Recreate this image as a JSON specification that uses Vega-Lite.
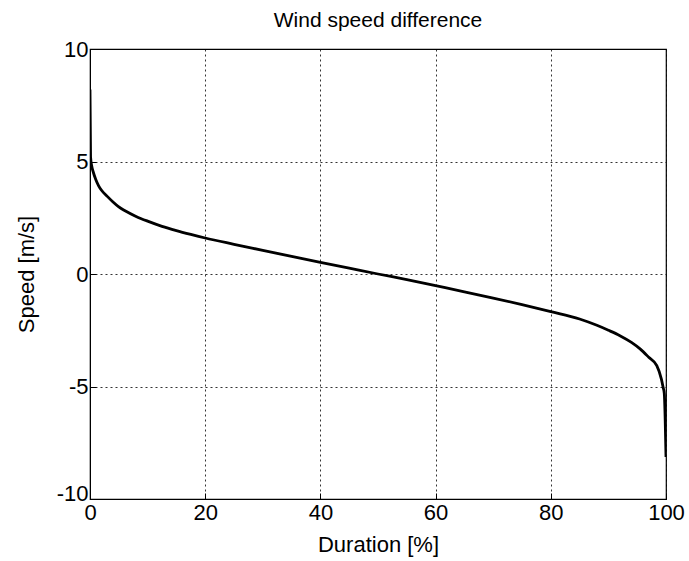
{
  "$schema": "https://vega.github.io/schema/vega-lite/v6.json",
  "width": 576,
  "height": 450,
  "autosize": "none",
  "padding": {"left": 90, "top": 49, "right": 23, "bottom": 62},
  "background": "white",
  "title": {"text": "Wind speed difference", "fontSize": 21, "font": "Liberation Sans", "fontWeight": "normal", "color": "black", "offset": 7},
  "config": {
    "font": "Liberation Sans",
    "view": {"stroke": "black", "strokeWidth": 1.2},
    "axis": {
      "labelFont": "Liberation Sans", "titleFont": "Liberation Sans",
      "labelFontSize": 22, "titleFontSize": 22, "titleFontWeight": "normal",
      "labelColor": "black", "titleColor": "black", "labelFlush": false, "labelOverlap": false,
      "domainColor": "black", "tickColor": "black", "tickSize": -6,
      "gridColor": "black", "gridDash": [2, 3], "gridOpacity": 0.8, "gridWidth": 1
    }
  },
  "data": {"values": [
    {"d": 0, "s": 8.2},
    {"d": 0.1, "s": 5.2},
    {"d": 0.3, "s": 4.8},
    {"d": 0.6, "s": 4.5},
    {"d": 1.0, "s": 4.2},
    {"d": 1.5, "s": 3.92},
    {"d": 2, "s": 3.72},
    {"d": 3, "s": 3.45},
    {"d": 4, "s": 3.2},
    {"d": 5, "s": 2.98},
    {"d": 6, "s": 2.82},
    {"d": 8, "s": 2.56},
    {"d": 10, "s": 2.35},
    {"d": 12.5, "s": 2.12},
    {"d": 15, "s": 1.93},
    {"d": 17.5, "s": 1.76},
    {"d": 20, "s": 1.6},
    {"d": 25, "s": 1.32},
    {"d": 30, "s": 1.05},
    {"d": 35, "s": 0.78},
    {"d": 40, "s": 0.52},
    {"d": 45, "s": 0.26},
    {"d": 50, "s": 0.0},
    {"d": 55, "s": -0.25},
    {"d": 60, "s": -0.52},
    {"d": 65, "s": -0.79},
    {"d": 70, "s": -1.07},
    {"d": 75, "s": -1.36},
    {"d": 80, "s": -1.67},
    {"d": 85, "s": -2.0},
    {"d": 88, "s": -2.28},
    {"d": 90, "s": -2.5},
    {"d": 92, "s": -2.74},
    {"d": 94, "s": -3.04},
    {"d": 95.5, "s": -3.33},
    {"d": 97, "s": -3.7},
    {"d": 98.4, "s": -4.07},
    {"d": 99.2, "s": -4.67},
    {"d": 99.5, "s": -5.04},
    {"d": 99.7, "s": -5.3},
    {"d": 100, "s": -8.13}
  ]},
  "mark": {"type": "line", "color": "black", "strokeWidth": 2.8, "clip": true, "interpolate": "monotone"},
  "encoding": {
    "x": {"field": "d", "type": "quantitative", "scale": {"domain": [0, 100], "nice": false},
      "axis": {"values": [0, 20, 40, 60, 80, 100], "title": "Duration [%]", "labelPadding": 9, "titlePadding": 11}},
    "y": {"field": "s", "type": "quantitative", "scale": {"domain": [-10, 10], "nice": false},
      "axis": {"values": [-10, -5, 0, 5, 10], "labelExpr": "datum.value + ''", "title": "Speed [m/s]", "labelPadding": 8, "titlePadding": 18,
        "labelOffset": {"condition": {"test": "datum.value == -10", "value": -6}, "value": 0}}}
  }
}
